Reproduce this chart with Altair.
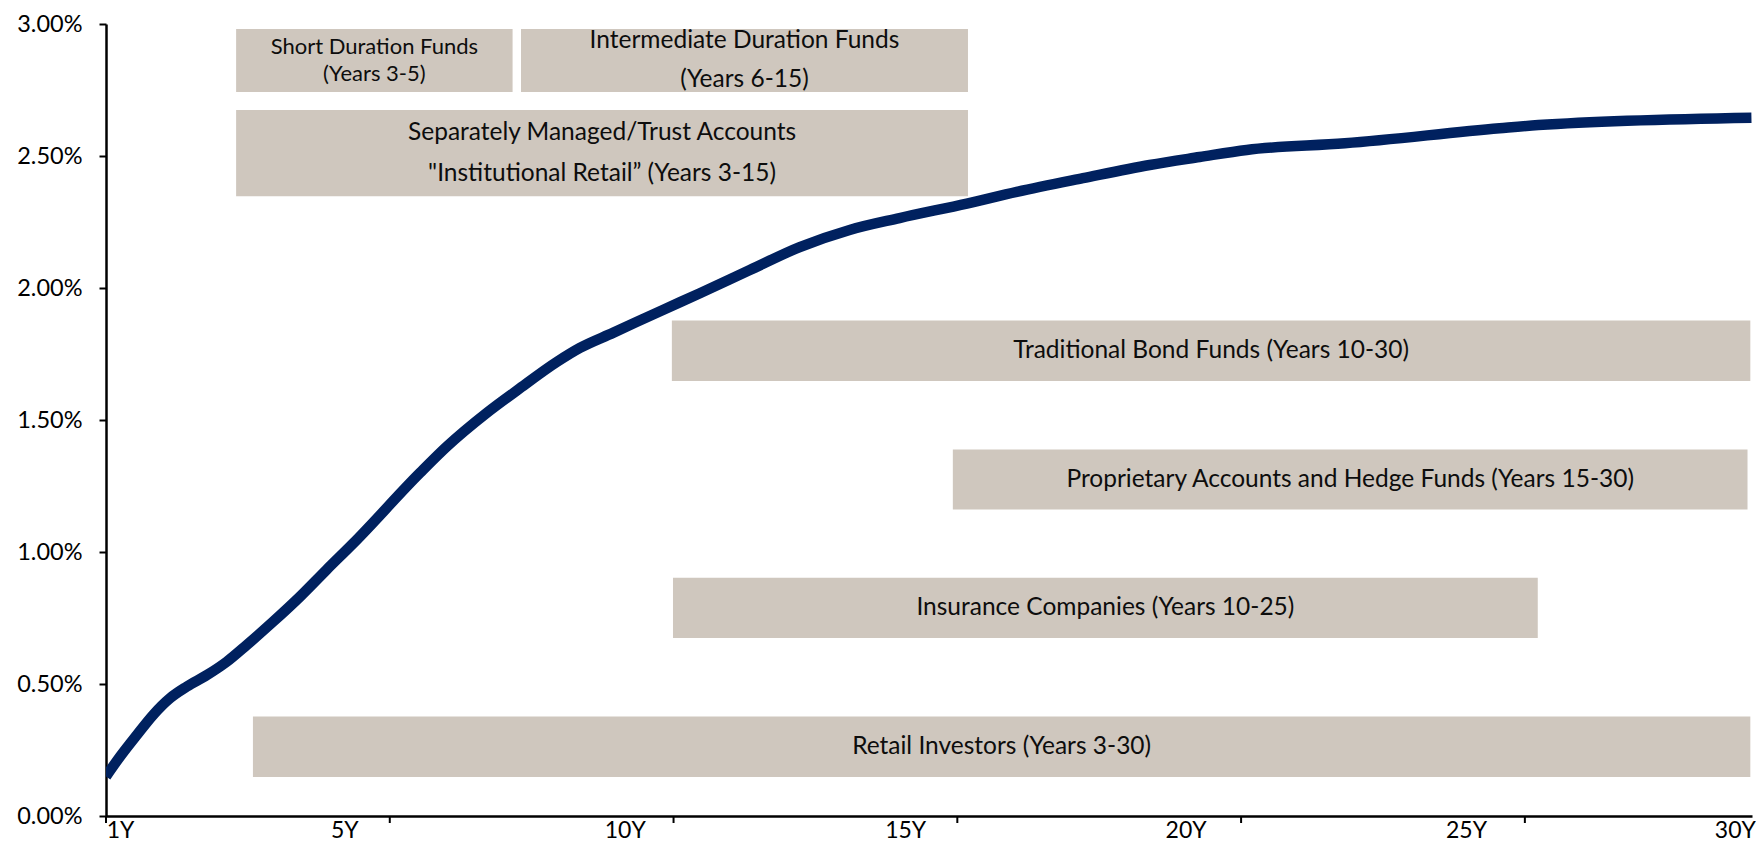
import altair as alt
import pandas as pd

# ---- yield curve (tenor in years, yield in %) ----
tenor_years = [0.75, 1.00, 1.30, 1.59, 1.89, 2.19, 2.55, 2.90, 3.26, 3.73, 4.21, 4.68, 5.16,
               6.35, 6.83, 7.54, 8.13, 8.79, 9.20, 9.79, 10.68, 11.34, 12.23, 13.12, 14.01,
               14.90, 16.10, 16.99, 18.17, 19.36, 20.25, 21.09, 22.84, 25.60, 26.29, 30.09]
yield_pct = [0.150, 0.225, 0.307, 0.383, 0.446, 0.490, 0.534, 0.584, 0.648, 0.736, 0.831,
             0.932, 1.033, 1.300, 1.400, 1.527, 1.620, 1.720, 1.773, 1.830, 1.917, 1.980,
             2.068, 2.155, 2.220, 2.265, 2.320, 2.364, 2.416, 2.466, 2.496, 2.523, 2.548,
             2.605, 2.617, 2.645]

# ---- investor-range boxes ----
box_names = ["short", "intermediate", "sma", "traditional", "proprietary", "insurance", "retail"]
box_lines = [
    ["Short Duration Funds", "(Years 3-5)"],
    ["Intermediate Duration Funds", "(Years 6-15)"],
    ["Separately Managed/Trust Accounts", "\"Institutional Retail\u201d (Years 3-15)"],
    ["Traditional Bond Funds (Years 10-30)"],
    ["Proprietary Accounts and Hedge Funds (Years 15-30)"],
    ["Insurance Companies (Years 10-25)"],
    ["Retail Investors (Years 3-30)"],
]
box_start = [3.07, 8.15, 3.07, 10.84, 15.85, 10.86, 3.37]
box_end = [8.00, 16.12, 16.12, 30.07, 30.02, 26.28, 30.07]
box_low = [2.742, 2.742, 2.348, 1.648, 1.161, 0.674, 0.148]
box_high = [2.981, 2.981, 2.674, 1.877, 1.388, 0.902, 0.377]
line_gap = [0.102, 0.148, 0.155, 0.0, 0.0, 0.0, 0.0]

# ---- axis ----
label_years = [1, 5, 10, 15, 20, 25, 30]
tick_positions = [0.75, 5.81, 10.87, 15.93, 20.99, 26.05]
y_ticks = [0, 0.5, 1.0, 1.5, 2.0, 2.5, 3.0]
x_min, x_max = 0.75, 30.1

FONT = "Lato"
BOX_COLOR = "#CFC7BE"
LINE_COLOR = "#00215F"

curve = pd.DataFrame({"year": tenor_years, "yld": yield_pct})
boxes = pd.DataFrame({"name": box_names, "x1": box_start, "x2": box_end,
                      "y1": box_low, "y2": box_high})
rows = []
for i, lines in enumerate(box_lines):
    xc = (box_start[i] + box_end[i]) / 2
    yc = (box_low[i] + box_high[i]) / 2
    n = len(lines)
    for j, t in enumerate(lines):
        rows.append({"name": box_names[i], "x": xc,
                     "y": yc + ((n - 1) / 2 - j) * line_gap[i], "t": t})
texts = pd.DataFrame(rows)
ticks = pd.DataFrame({"x": tick_positions})

xscale = alt.Scale(domain=[x_min, x_max], nice=False, zero=False)
yscale = alt.Scale(domain=[0, 3], nice=False)

xaxis = alt.Axis(values=label_years, labelExpr="datum.value + 'Y'", ticks=False, grid=False,
                 domainColor="black", domainWidth=2.5, labelFont=FONT, labelFontSize=23,
                 labelColor="black", labelPadding=3, title=None,
                 labelAlign={"condition": {"test": "datum.value >= 30", "value": "right"},
                             "value": "center"},
                 labelOffset={"condition": {"test": "datum.value >= 30", "value": 9},
                              "value": 0})
yaxis = alt.Axis(values=y_ticks, labelExpr="format(datum.value, '.2f') + '%'", grid=False,
                 domainColor="black", domainWidth=2.5, tickColor="black", tickWidth=2,
                 tickSize=7, labelFont=FONT, labelFontSize=23.5, labelColor="black",
                 labelPadding=17, title=None)

rects = alt.Chart(boxes).mark_rect(color=BOX_COLOR).encode(
    x=alt.X("x1:Q", scale=xscale, axis=xaxis),
    x2="x2:Q",
    y=alt.Y("y1:Q", scale=yscale, axis=yaxis),
    y2="y2:Q",
)

small_labels = alt.Chart(texts).transform_filter(alt.datum.name == "short").mark_text(
    font=FONT, fontSize=22, color="#0d0d0d", align="center", baseline="middle").encode(
    x=alt.X("x:Q", scale=xscale),
    y=alt.Y("y:Q", scale=yscale),
    text="t:N",
)
big_labels = alt.Chart(texts).transform_filter(alt.datum.name != "short").mark_text(
    font=FONT, fontSize=24.5, color="#0d0d0d", align="center", baseline="middle").encode(
    x=alt.X("x:Q", scale=xscale),
    y=alt.Y("y:Q", scale=yscale),
    text="t:N",
)

tick_rules = alt.Chart(ticks).mark_rule(color="black", strokeWidth=2).encode(
    x=alt.X("x:Q", scale=xscale),
    y=alt.value(792),
    y2=alt.value(799),
)

line = alt.Chart(curve).mark_line(color=LINE_COLOR, strokeWidth=10.5, interpolate="monotone",
                                  clip=True).encode(
    x=alt.X("year:Q", scale=xscale),
    y=alt.Y("yld:Q", scale=yscale),
)

chart = alt.layer(rects, small_labels, big_labels, tick_rules, line).properties(
    width=1646, height=792,
    padding={"left": 98, "top": 16, "right": 4, "bottom": 27},
    autosize=alt.AutoSizeParams(type="none"),
).configure_view(stroke=None)

chart.save("out.html", embed_options={"renderer": "svg", "actions": False})
